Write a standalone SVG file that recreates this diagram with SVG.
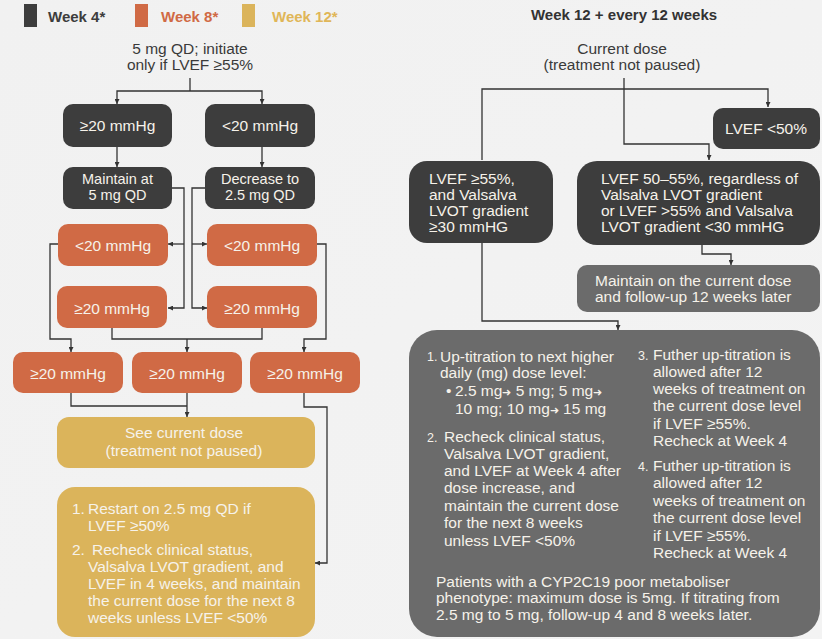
<svg xmlns="http://www.w3.org/2000/svg" width="822" height="639" viewBox="0 0 822 639">
<defs>
<linearGradient id="bg" x1="0" y1="0" x2="1" y2="1">
<stop offset="0" stop-color="#f1f1f1"/><stop offset="1" stop-color="#f3f3f3"/>
</linearGradient>
<marker id="ar" viewBox="0 0 6 6" refX="6" refY="3" markerWidth="5" markerHeight="5" markerUnits="userSpaceOnUse" orient="auto">
<path d="M0,0 L6,3 L0,6 z" fill="#333"/>
</marker>
<style>
text{font-family:"Liberation Sans",Arial,sans-serif;font-size:15.5px}
.dk{fill:#3d3d3d}
.or{fill:#d06a45}
.ye{fill:#dbb45b}
.gr{fill:#6b6b6b}
.wt{fill:#f6f2ea}
.ct{text-anchor:middle}
.hd{font-weight:bold;font-size:15px}
.tx{fill:#3a3a3a}
.ln{fill:none;stroke:#333;stroke-width:1.3}
.ar{marker-end:url(#ar)}
.sm{font-size:12.5px}
.tw{font-size:14.5px}
.aw{font-size:11px}
</style>
</defs>
<rect width="822" height="639" fill="url(#bg)"/>

<g id="legend">
<rect x="24" y="4" width="13" height="23" class="dk"/>
<text x="48" y="22" class="hd" fill="#3d3d3d">Week 4*</text>
<rect x="135" y="4" width="13" height="23" class="or"/>
<text x="161" y="22" class="hd" fill="#d06a45">Week 8*</text>
<rect x="242" y="4" width="13" height="23" class="ye"/>
<text x="272" y="22" class="hd" fill="#e0b658">Week 12*</text>
</g>

<g id="start-left">
<text x="190" y="54" class="ct tx">5 mg QD; initiate</text>
<text x="190" y="70" class="ct tx">only if LVEF ≥55%</text>
</g>

<g id="connectors">
<path class="ln" d="M190,78 V91"/>
<path class="ln ar" d="M190,91 H117 V104"/>
<path class="ln ar" d="M190,91 H262 V104"/>
<path class="ln ar" d="M117,147 V167"/>
<path class="ln ar" d="M262,147 V167"/>
<path class="ln ar" d="M172,188 H184 V308 H168"/>
<path class="ln ar" d="M184,244 H168"/>
<path class="ln ar" d="M205,188 H192 V308 H207"/>
<path class="ln ar" d="M192,244 H207"/>
<path class="ln ar" d="M58,244 H50 V339 H71 V352"/>
<path class="ln" d="M112,328 V339 H262 V328"/>
<path class="ln ar" d="M187,339 V352"/>
<path class="ln ar" d="M317,244 H326 V339 H304 V352"/>
<path class="ln" d="M71,393 V406 H187"/>
<path class="ln ar" d="M187,393 V417"/>
<path class="ln ar" d="M304,393 V407 H327 V563 H315"/>
<path class="ln ar" d="M624,78 V144 H709 V160"/>
<path class="ln ar" d="M482,160 V89 H768 V107"/>
<path class="ln ar" d="M702,245 V254 H731 V265"/>
<path class="ln ar" d="M482,243 V321 H618 V330"/>
</g>

<g id="n-ge20-dark">
<rect x="63" y="104" width="109" height="43" rx="10" class="dk"/>
<text x="117.5" y="130.5" class="ct wt">≥20 mmHg</text>
</g>
<g id="n-lt20-dark">
<rect x="205" y="104" width="110" height="43" rx="10" class="dk"/>
<text x="260" y="130.5" class="ct wt">&lt;20 mmHg</text>
</g>
<g id="n-maintain">
<rect x="63" y="167" width="109" height="42" rx="10" class="dk"/>
<text x="117.5" y="183.5" class="ct wt tw">Maintain at</text>
<text x="117.5" y="199.5" class="ct wt tw">5 mg QD</text>
</g>
<g id="n-decrease">
<rect x="205" y="167" width="110" height="42" rx="10" class="dk"/>
<text x="260" y="183.5" class="ct wt tw">Decrease to</text>
<text x="260" y="199.5" class="ct wt tw">2.5 mg QD</text>
</g>

<g id="n-o1">
<rect x="58" y="224" width="110" height="42" rx="10" class="or"/>
<text x="113" y="250.5" class="ct wt">&lt;20 mmHg</text>
</g>
<g id="n-o2">
<rect x="207" y="224" width="110" height="42" rx="10" class="or"/>
<text x="262" y="250.5" class="ct wt">&lt;20 mmHg</text>
</g>
<g id="n-o3">
<rect x="57" y="286" width="110" height="42" rx="10" class="or"/>
<text x="112" y="313.5" class="ct wt">≥20 mmHg</text>
</g>
<g id="n-o4">
<rect x="207" y="286" width="110" height="42" rx="10" class="or"/>
<text x="262" y="313.5" class="ct wt">≥20 mmHg</text>
</g>
<g id="n-o5">
<rect x="13" y="352" width="110" height="41" rx="10" class="or"/>
<text x="68" y="378.5" class="ct wt">≥20 mmHg</text>
</g>
<g id="n-o6">
<rect x="132" y="352" width="110" height="41" rx="10" class="or"/>
<text x="187" y="378.5" class="ct wt">≥20 mmHg</text>
</g>
<g id="n-o7">
<rect x="250" y="352" width="110" height="41" rx="10" class="or"/>
<text x="305" y="378.5" class="ct wt">≥20 mmHg</text>
</g>

<g id="n-see">
<rect x="57" y="417" width="258" height="51" rx="12" class="ye"/>
<text x="184" y="438" class="ct wt">See current dose</text>
<text x="184" y="456" class="ct wt">(treatment not paused)</text>
</g>
<g id="n-restart">
<rect x="57" y="487" width="258" height="150" rx="18" class="ye"/>
<text x="72" y="514" class="wt">1.</text>
<text x="88" y="514" class="wt">Restart on 2.5 mg QD if</text>
<text x="88" y="531" class="wt">LVEF ≥50%</text>
<text x="72" y="555" class="wt">2.</text>
<text x="92" y="555" class="wt">Recheck clinical status,</text>
<text x="88" y="572" class="wt">Valsalva LVOT gradient, and</text>
<text x="88" y="589" class="wt">LVEF in 4 weeks, and maintain</text>
<text x="88" y="606" class="wt">the current dose for the next 8</text>
<text x="88" y="623" class="wt">weeks unless LVEF &lt;50%</text>
</g>

<g id="start-right">
<text x="624" y="20" class="ct hd" fill="#333">Week 12 + every 12 weeks</text>
<text x="622" y="54" class="ct tx">Current dose</text>
<text x="622" y="70" class="ct tx">(treatment not paused)</text>
</g>

<g id="n-lvef-lt50">
<rect x="713" y="108" width="107" height="41" rx="10" class="dk"/>
<text x="766" y="133.5" class="ct wt">LVEF &lt;50%</text>
</g>
<g id="n-lvef-ge55">
<rect x="409" y="161" width="144" height="82" rx="18" class="dk"/>
<text x="429" y="184" class="wt">LVEF ≥55%,</text>
<text x="429" y="200" class="wt">and Valsalva</text>
<text x="429" y="216" class="wt">LVOT gradient</text>
<text x="429" y="232" class="wt">≥30 mmHG</text>
</g>
<g id="n-lvef-50-55">
<rect x="577" y="161" width="243" height="84" rx="20" class="dk"/>
<text x="601" y="184" class="wt">LVEF 50–55%, regardless of</text>
<text x="601" y="200" class="wt">Valsalva LVOT gradient</text>
<text x="601" y="216" class="wt">or LVEF &gt;55% and Valsalva</text>
<text x="601" y="232" class="wt">LVOT gradient &lt;30 mmHG</text>
</g>
<g id="n-maintain-current">
<rect x="577" y="265" width="243" height="47" rx="10" class="gr"/>
<text x="595" y="286" class="wt">Maintain on the current dose</text>
<text x="595" y="302" class="wt">and follow-up 12 weeks later</text>
</g>

<g id="n-uptitration">
<rect x="409" y="330" width="411" height="307" rx="28" class="gr"/>
<text x="427" y="361" class="wt sm">1.</text>
<text x="440" y="362" class="wt">Up-titration to next higher</text>
<text x="440" y="378" class="wt">daily (mg) dose level:</text>
<text x="446" y="396" class="wt">•</text>
<text x="455" y="396" class="wt">2.5 mg<tspan class="aw">➜</tspan> 5 mg; 5 mg<tspan class="aw">➜</tspan></text>
<text x="455" y="414" class="wt">10 mg; 10 mg<tspan class="aw">➜</tspan> 15 mg</text>
<text x="427" y="442" class="wt sm">2.</text>
<text x="444" y="442" class="wt">Recheck clinical status,</text>
<text x="444" y="459" class="wt">Valsalva LVOT gradient,</text>
<text x="444" y="476" class="wt">and LVEF at Week 4 after</text>
<text x="444" y="493" class="wt">dose increase, and</text>
<text x="444" y="511" class="wt">maintain the current dose</text>
<text x="444" y="528" class="wt">for the next 8 weeks</text>
<text x="444" y="546" class="wt">unless LVEF &lt;50%</text>
<text x="638" y="360" class="wt sm">3.</text>
<text x="653" y="360" class="wt">Futher up-titration is</text>
<text x="653" y="377" class="wt">allowed after 12</text>
<text x="653" y="394" class="wt">weeks of treatment on</text>
<text x="653" y="411" class="wt">the current dose level</text>
<text x="653" y="429" class="wt">if LVEF ≥55%.</text>
<text x="653" y="446" class="wt">Recheck at Week 4</text>
<text x="638" y="471" class="wt sm">4.</text>
<text x="653" y="471" class="wt">Futher up-titration is</text>
<text x="653" y="488" class="wt">allowed after 12</text>
<text x="653" y="506" class="wt">weeks of treatment on</text>
<text x="653" y="523" class="wt">the current dose level</text>
<text x="653" y="541" class="wt">if LVEF ≥55%.</text>
<text x="653" y="558" class="wt">Recheck at Week 4</text>
<text x="436" y="587" class="wt">Patients with a CYP2C19 poor metaboliser</text>
<text x="436" y="603" class="wt">phenotype: maximum dose is 5mg. If titrating from</text>
<text x="436" y="620" class="wt">2.5 mg to 5 mg, follow-up 4 and 8 weeks later.</text>
</g>
</svg>
